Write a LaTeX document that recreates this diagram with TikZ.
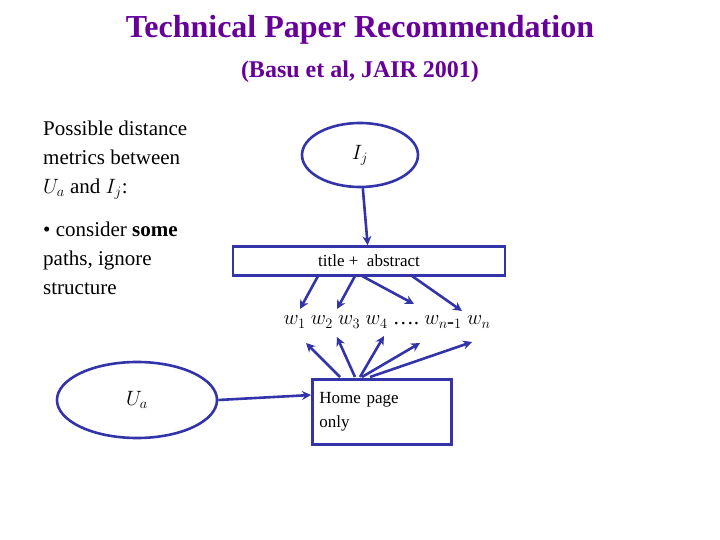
\documentclass[tikz,border=0pt]{standalone}
\usepackage{fontspec}
\setmainfont{Liberation Serif}
\usetikzlibrary{shapes.geometric,arrows.meta}
\definecolor{ttl}{RGB}{102,0,153}
\definecolor{bl}{RGB}{51,51,170}
\begin{document}
\begin{tikzpicture}[x=1pt,y=-1pt,
  shp/.style={draw=bl,line width=2.6pt},
  arr/.style={draw=bl,line width=2.6pt,-{Stealth[length=9pt,width=9pt]}},
  lt/.style={anchor=north west,align=left,font=\fontsize{21}{29}\selectfont,inner sep=0pt}]
\useasboundingbox (0,0) rectangle (720,540);
\node[text=ttl,font=\fontsize{32}{36}\selectfont\bfseries] (t) at (360,30) {Technical Paper Recommendation};
\node[text=ttl,font=\fontsize{24}{28}\selectfont\bfseries] (st) at (360,72) {(Basu et al, JAIR 2001)};
\node[lt] (l1) at (43,121) {Possible distance\\metrics between\\$U_a$ and $I_j$:};
\node[lt] (l2) at (43,222) {\textbullet\ consider \textbf{some}\\paths, ignore\\structure};
\node[shp,ellipse,minimum width=116pt,minimum height=64pt,font=\fontsize{21}{24}\selectfont] (ij) at (360,155) {$I_j$};
\node[shp,minimum width=272pt,minimum height=29pt,font=\fontsize{17}{20}\selectfont] (ta) at (369,261) {title +\ \ abstract};
\node[font=\fontsize{21}{24}\selectfont] (w) at (387,322) {$w_1\ w_2\ w_3\ w_4$ \dots.\ $w_{n\mbox{-}1}\ w_n$};
\node[shp,ellipse,minimum width=160pt,minimum height=76pt,font=\fontsize{21}{24}\selectfont] (ua) at (137,400) {$U_a$};
\node[shp,minimum width=139pt,minimum height=65pt,anchor=north west,align=left,text width=125pt,inner sep=6pt,font=\fontsize{17}{24}\selectfont] (hp) at (311,378) {Home page\\only\vphantom{g}};
\draw[arr] (ij) -- (ta);
\draw[arr] (ua.east) -- (hp.west |- 0,395);
\foreach \a/\b in {318/300,355/337}
  \draw[arr] (\a,276) -- (\b,309);
\draw[arr] (362,276) -- (414,304);
\draw[arr] (412,276) -- (462,311);
\foreach \a/\b/\c in {340/306/343,355/337/337,360/384/336,362/420/343,370/472/342}
  \draw[arr] (\a,377) -- (\b,\c);
\end{tikzpicture}
\end{document}
